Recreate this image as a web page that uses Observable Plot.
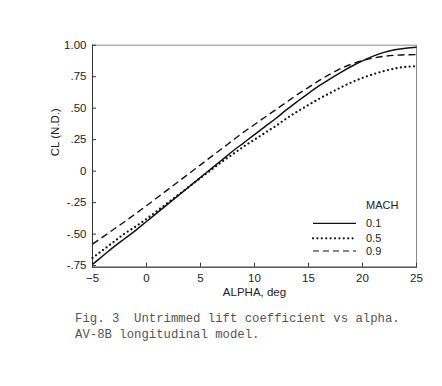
<!DOCTYPE html>
<html>
<head>
<meta charset="utf-8">
<script src="https://cdn.jsdelivr.net/npm/d3@7"></script>
<script src="https://cdn.jsdelivr.net/npm/@observablehq/plot@0.6"></script>
<style>
  html, body { margin: 0; padding: 0; background: #fff; }
  #chart svg { display: block; }
  #caption {
    font-family: "Liberation Mono", "DejaVu Sans Mono", monospace;
    font-size: 12.3px; line-height: 15.5px; color: #555;
    padding-left: 75px; margin-top: 7px; white-space: pre;
  }
</style>
</head>
<body>
<div id="chart"></div>
<div id="caption">Fig. 3  Untrimmed lift coefficient vs alpha.
AV-8B longitudinal model.</div>
<script>
const alpha = [-5,-4,-3,-2,-1,0,1,2,3,4,5,6,7,8,9,10,11,12,13,14,15,16,17,18,19,20,21,22,23,24,25];
const cl_M01 = [-0.74,-0.67,-0.60,-0.535,-0.47,-0.40,-0.33,-0.26,-0.19,-0.12,-0.05,0.02,0.09,0.16,0.225,0.29,0.355,0.42,0.49,0.555,0.618,0.678,0.733,0.785,0.833,0.876,0.913,0.943,0.963,0.976,0.984];
const cl_M05 = [-0.69,-0.625,-0.56,-0.495,-0.44,-0.38,-0.315,-0.25,-0.185,-0.12,-0.055,0.01,0.075,0.135,0.195,0.25,0.305,0.36,0.42,0.475,0.525,0.575,0.62,0.665,0.705,0.74,0.77,0.795,0.815,0.828,0.833];
const cl_M09 = [-0.58,-0.52,-0.46,-0.40,-0.338,-0.275,-0.21,-0.145,-0.08,-0.015,0.05,0.115,0.18,0.245,0.31,0.37,0.43,0.49,0.55,0.61,0.665,0.72,0.77,0.815,0.85,0.878,0.898,0.912,0.92,0.924,0.925];
const machLabels = ["0.1","0.5","0.9"];
const xTicks = [-5,0,5,10,15,20,25];
const yTicks = [1.0,0.75,0.5,0.25,0,-0.25,-0.5,-0.75];
const yTickLabels = ["1.00",".75",".50",".25","0","-.25","-.50","-.75"];

const series = [cl_M01, cl_M05, cl_M09];
const styles = [
  {dash: null, width: 1.5, cap: "butt"},
  {dash: "0,4.4", width: 2.3, cap: "round"},
  {dash: "7,4", width: 1.4, cap: "butt"}
];
const data = [];
series.forEach((s, i) => s.forEach((v, j) => data.push({alpha: alpha[j], cl: v, mach: machLabels[i]})));

const font = "'Liberation Sans', Arial, sans-serif";
const W = 442, H = 305, ML = 92, MR = 26, MT = 44.7, MB = 38.3;
const frameW = W - ML - MR, frameH = H - MT - MB;

function legend(index, scales, values, dims) {
  const ns = "http://www.w3.org/2000/svg";
  const g = document.createElementNS(ns, "g");
  g.setAttribute("text-anchor", "start");
  const right = dims.width - dims.marginRight;
  const bottom = dims.height - dims.marginBottom;
  const t = document.createElementNS(ns, "text");
  t.setAttribute("x", right - 50); t.setAttribute("y", bottom - 58);
  t.setAttribute("font-family", font); t.setAttribute("font-size", "11");
  t.setAttribute("fill", "#222");
  t.textContent = "MACH";
  g.appendChild(t);
  const offs = [43.4, 28.4, 15.7];
  machLabels.forEach((m, i) => {
    const y = bottom - offs[i];
    const l = document.createElementNS(ns, "line");
    l.setAttribute("x1", right - 103); l.setAttribute("x2", right - 60);
    l.setAttribute("y1", y); l.setAttribute("y2", y);
    l.setAttribute("stroke", "#111");
    l.setAttribute("stroke-width", i === 1 ? 2.2 : 1.2);
    if (styles[i].dash) l.setAttribute("stroke-dasharray", i === 1 ? "0,4.4" : "6,4");
    l.setAttribute("stroke-linecap", styles[i].cap);
    g.appendChild(l);
    const tx = document.createElementNS(ns, "text");
    tx.setAttribute("x", right - 50); tx.setAttribute("y", y + 4);
    tx.setAttribute("font-family", font); tx.setAttribute("font-size", "11");
    tx.setAttribute("fill", "#222");
    tx.textContent = m;
    g.appendChild(tx);
  });
  return g;
}

const marks = [
  Plot.frame({stroke: "#888", strokeWidth: 1}),
  Plot.frame({anchor: "left", stroke: "#333", strokeWidth: 1}),
  Plot.frame({anchor: "bottom", stroke: "#333", strokeWidth: 1}),
  Plot.axisX({ticks: xTicks, tickSize: 0, tickPadding: 7, label: null, fontSize: 11.5, fill: "#222"}),
  Plot.axisY({ticks: yTicks, tickSize: 0, tickPadding: 6, tickFormat: d => yTickLabels[yTicks.indexOf(d)], label: null, fontSize: 11.5, fill: "#222"}),
  Plot.tickX(xTicks, {x: d => d, insetTop: frameH - 4, stroke: "#333"}),
  Plot.tickY(yTicks, {y: d => d, insetRight: frameW - 4, stroke: "#333"}),
];
machLabels.forEach((m, i) => {
  marks.push(Plot.line(data.filter(d => d.mach === m), {
    x: "alpha", y: "cl", stroke: "#111", strokeWidth: styles[i].width,
    strokeDasharray: styles[i].dash, strokeLinecap: styles[i].cap, curve: "monotone-x"
  }));
});
marks.push(Plot.text(["CL (N.D.)"], {frameAnchor: "left", dx: -37, rotate: -90, text: d => d, fontSize: 11.5, fill: "#222", fontFamily: font}));
marks.push(Plot.text(["ALPHA, deg"], {frameAnchor: "bottom", dy: 29, text: d => d, fontSize: 11.5, fill: "#222", fontFamily: font}));
marks.push(legend);

const chart = Plot.plot({
  width: W, height: H,
  marginLeft: ML, marginRight: MR, marginTop: MT, marginBottom: MB,
  style: {fontFamily: font, background: "#fff"},
  x: {domain: [-5, 25]},
  y: {domain: [-0.763, 1.0]},
  marks
});
document.getElementById("chart").appendChild(chart);
</script>
</body>
</html>
